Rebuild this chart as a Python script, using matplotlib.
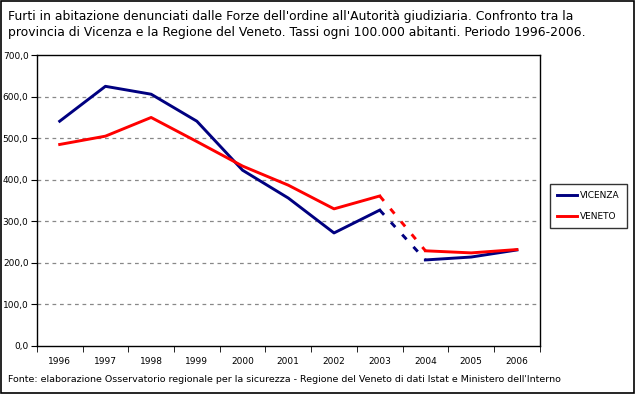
import numpy as np
import matplotlib.pyplot as plt
from matplotlib.patches import Rectangle

years = ['1996', '1997', '1998', '1999', '2000', '2001', '2002', '2003', '2004', '2005', '2006']
vicenza = [541, 625, 606, 541, 423, 356, 272, 327, 207, 214, 231]
veneto = [485, 505, 550, 492, 433, 387, 330, 361, 229, 224, 232]

plt.rcParams['font.family'] = ['DejaVu Sans']
fig = plt.figure(figsize=(6.35, 3.94), dpi=100)
ax = fig.add_axes([0.058, 0.122, 0.792, 0.738])

x = np.arange(len(years))
for vals, col, name in [(vicenza, '#000080', 'VICENZA'), (veneto, '#FF0000', 'VENETO')]:
    ax.plot(x[:8], vals[:8], color=col, lw=2.1, label=name)
    ax.plot(x[7:9], vals[7:9], color=col, lw=2.1, ls=(0, (2.2, 3.5)))
    ax.plot(x[8:], vals[8:], color=col, lw=2.1)

ax.set_xlim(-0.5, len(years) - 0.5)
ax.set_ylim(0, 700)
ax.set_yticks(range(0, 701, 100))
ax.set_yticklabels([f'{v},0' for v in range(0, 701, 100)], fontsize=6.5)
ax.set_xticks(x)
ax.set_xticklabels(years, fontsize=6.5)
ax.set_xticks(np.arange(-0.5, len(years)), minor=True)
ax.tick_params(axis='x', which='major', length=0, pad=8)
ax.tick_params(axis='x', which='minor', length=4, direction='out')
ax.tick_params(axis='y', length=4, direction='out', pad=2)
for v in range(100, 700, 100):
    ax.axhline(v, color='#888888', lw=0.9, ls=(0, (3, 3)), zorder=0)
for s in ax.spines.values():
    s.set_linewidth(1.0)

leg = ax.legend(loc='center left', bbox_to_anchor=(1.015, 0.48), fontsize=6.5,
                frameon=True, fancybox=False, edgecolor='black', handlelength=2.2,
                handletextpad=0.3, labelspacing=1.3, borderpad=0.8, borderaxespad=0.3)
leg.get_frame().set_linewidth(1.0)

fig.text(0.013, 0.975, "Furti in abitazione denunciati dalle Forze dell'ordine all'Autorità giudiziaria. Confronto tra la\n"
         "provincia di Vicenza e la Regione del Veneto. Tassi ogni 100.000 abitanti. Periodo 1996-2006.",
         fontsize=8.9, va='top', ha='left', linespacing=1.3)
fig.text(0.013, 0.038, "Fonte: elaborazione Osservatorio regionale per la sicurezza - Regione del Veneto di dati Istat e Ministero dell'Interno",
         fontsize=6.8, va='center', ha='left')
fig.patches.append(Rectangle((0.002, 0.003), 0.996, 0.994, transform=fig.transFigure,
                             fill=False, edgecolor='black', lw=1.2))

fig.savefig('out.png', dpi=100)
